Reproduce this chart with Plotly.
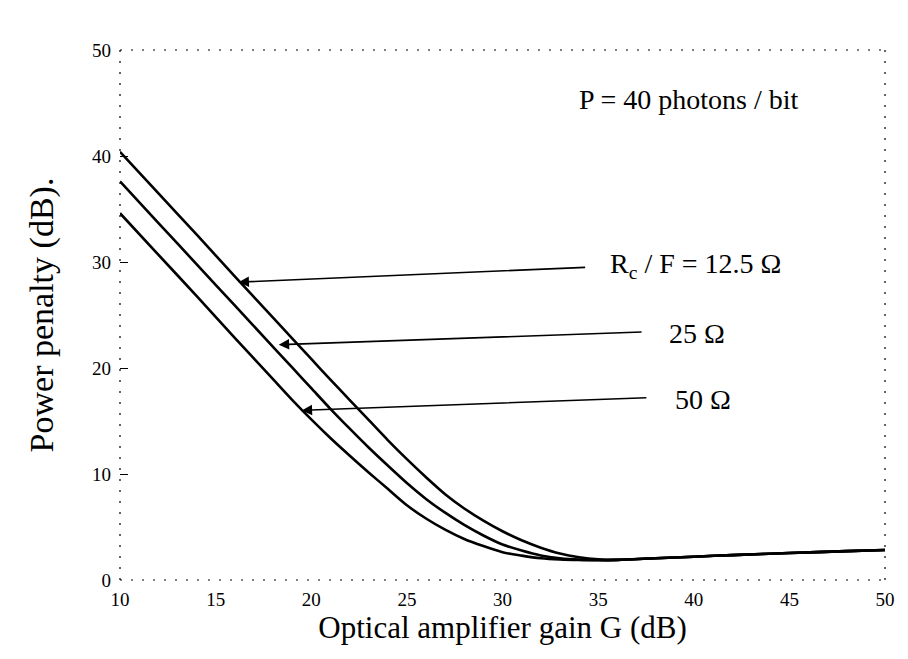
import plotly.graph_objects as go

# Optical amplifier gain G (dB)
gain_db = [10, 12, 14, 16, 18, 19, 20, 21, 22, 23, 24, 25, 26, 27, 28, 29, 30,
           31, 32, 33, 34, 35, 36, 38, 40, 42, 45, 48, 50]

# Power penalty (dB) for each Rc/F value
penalty_12_5 = [40.4, 36.5, 32.6, 28.65, 24.75, 22.8, 20.85, 18.9, 17.0, 15.1, 13.2, 11.4, 9.7, 8.1,
                6.75, 5.6, 4.6, 3.75, 3.05, 2.5, 2.15, 1.95, 1.9, 2.05, 2.2, 2.35, 2.55, 2.72, 2.83]
penalty_25 = [37.6, 33.7, 29.8, 25.9, 22.0, 20.05, 18.1, 16.15, 14.3, 12.5, 10.8, 9.15, 7.65, 6.35,
              5.2, 4.2, 3.35, 2.78, 2.32, 2.05, 1.92, 1.88, 1.9, 2.05, 2.2, 2.35, 2.55, 2.72, 2.83]
penalty_50 = [34.6, 30.7, 26.8, 22.85, 18.95, 17.0, 15.15, 13.4, 11.75, 10.15, 8.6, 7.05, 5.8, 4.75,
              3.87, 3.2, 2.62, 2.3, 2.05, 1.93, 1.88, 1.87, 1.9, 2.05, 2.2, 2.35, 2.55, 2.72, 2.83]

series = [("12.5", penalty_12_5), ("25", penalty_25), ("50", penalty_50)]

x_ticks = [10, 15, 20, 25, 30, 35, 40, 45, 50]
y_ticks = [0, 10, 20, 30, 40, 50]

# Labels with arrows: (text, text x, text y, tail x, tail y, tip x, tip y)
labels = [
    ("R<sub>c</sub> / F = 12.5 Ω", 35.5, 29.7, 34.4, 29.5, 16.2, 28.1),
    ("25 Ω", 38.6, 23.3, 37.35, 23.4, 18.3, 22.2),
    ("50 Ω", 38.9, 17.0, 37.6, 17.2, 19.5, 16.0),
]
note_text = "P = 40 photons / bit"
note_x, note_y = 39.75, 45.3

SERIF = "Liberation Serif, Times New Roman, serif"

fig = go.Figure()
for name, vals in series:
    fig.add_trace(go.Scatter(
        x=gain_db, y=vals, mode="lines", name=name,
        line=dict(color="black", width=2.6, shape="spline", smoothing=0.8),
        showlegend=False, hoverinfo="skip"))

for text, tx, ty, ax, ay, hx, hy in labels:
    fig.add_annotation(x=hx, y=hy, ax=ax, ay=ay, xref="x", yref="y",
                       axref="x", ayref="y", text="", showarrow=True,
                       arrowhead=2, arrowsize=1.3, arrowwidth=1.6, arrowcolor="black")
    fig.add_annotation(x=tx, y=ty, xref="x", yref="y", text=text, showarrow=False,
                       xanchor="left", yanchor="middle",
                       font=dict(family=SERIF, size=28, color="black"))

fig.add_annotation(x=note_x, y=note_y, xref="x", yref="y", text=note_text,
                   showarrow=False, xanchor="center", yanchor="middle",
                   font=dict(family=SERIF, size=28, color="black"))

# sparse dotted frame, like the scanned original
frame_dash = "2px,9px"
for x0, y0, x1, y1 in [(0, 0, 1, 0), (0, 1, 1, 1), (0, 0, 0, 1), (1, 0, 1, 1)]:
    fig.add_shape(type="line", xref="paper", yref="paper", x0=x0, y0=y0, x1=x1, y1=y1,
                  line=dict(color="black", width=1.2, dash=frame_dash))

fig.update_layout(
    width=908, height=659,
    margin=dict(l=120, r=23, t=50, b=79),
    paper_bgcolor="white", plot_bgcolor="white",
    font=dict(family=SERIF, color="black"),
)
fig.update_xaxes(range=[10, 50], tickvals=x_ticks, ticktext=[str(v) for v in x_ticks],
                 showgrid=False, zeroline=False, showline=False, ticks="",
                 ticklabelstandoff=6,
                 tickfont=dict(family=SERIF, size=19),
                 title=dict(text="Optical amplifier gain G (dB)", standoff=4,
                            font=dict(family=SERIF, size=31)))
fig.update_yaxes(range=[0, 50], tickvals=y_ticks, ticktext=[str(v) for v in y_ticks],
                 showgrid=False, zeroline=False, showline=False,
                 ticks="inside", ticklen=8, tickwidth=1.2, tickcolor="black",
                 ticklabelstandoff=8,
                 tickfont=dict(family=SERIF, size=19),
                 title=dict(text="Power penalty (dB).", standoff=28,
                            font=dict(family=SERIF, size=34)))

fig.write_html("out.html")
